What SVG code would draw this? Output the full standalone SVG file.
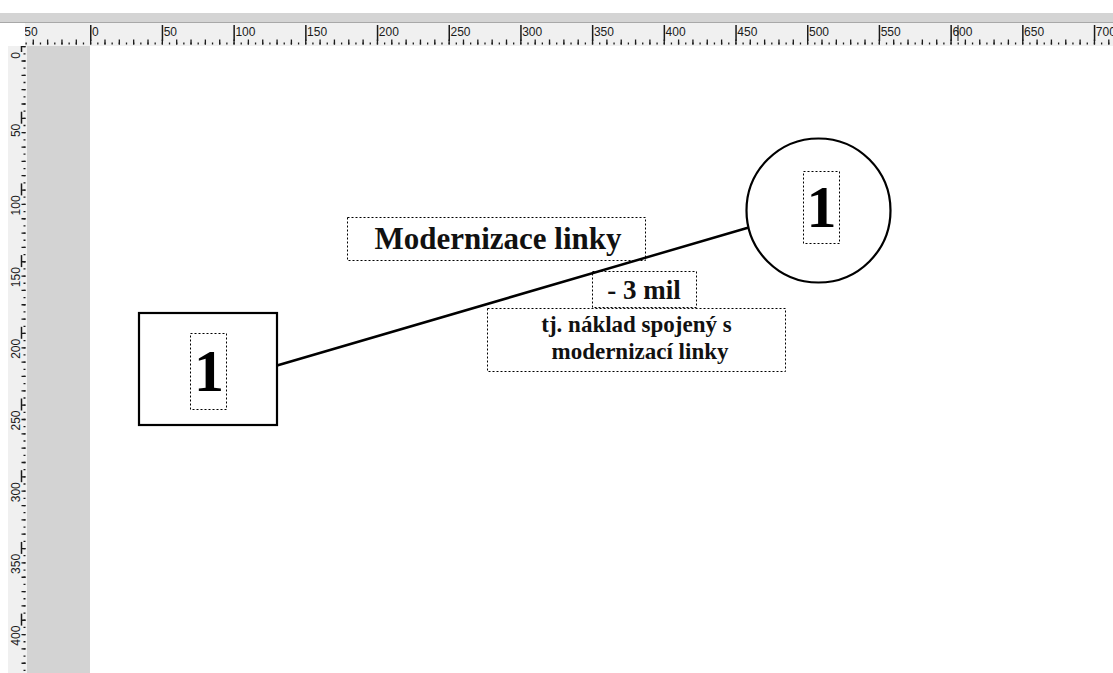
<svg xmlns="http://www.w3.org/2000/svg" width="1113" height="673" viewBox="0 0 1113 673">
  <defs>
    <style>
      .rulerbg { fill: #f0f0f0; }
      .rlabel { font-family: "Liberation Sans", Arial, sans-serif; font-size: 12px; fill: #1a1a1a; }
      .tick { stroke: #1a1a1a; fill: none; }
      .shape { fill: #ffffff; stroke: #000000; stroke-width: 2.2; }
      .frame { fill: none; stroke: #000000; stroke-width: 1; stroke-dasharray: 2 2; }
      .num { font-family: "Liberation Serif", "Times New Roman", serif; font-weight: bold; font-size: 60px; fill: #000; text-anchor: middle; }
      .lbl { font-family: "Liberation Serif", "Times New Roman", serif; font-weight: bold; fill: #111; text-anchor: middle; }
      .conn { stroke: #000000; stroke-width: 2.5; fill: none; stroke-linecap: round; }
    </style>
    <clipPath id="hclip"><rect x="25" y="23" width="1088" height="23"/></clipPath>
    <clipPath id="vclip"><rect x="0" y="46" width="27" height="627"/></clipPath>
  </defs>

  <!-- window background -->
  <rect x="0" y="0" width="1113" height="673" fill="#ffffff"/>
  <rect x="0" y="13" width="1113" height="9" fill="#d4d4d4"/>
  <rect x="0" y="22" width="1113" height="1" fill="#a8a8a8"/>

  <!-- horizontal ruler -->
  <g id="ruler-top">
    <rect class="rulerbg" x="25" y="23" width="1088" height="23"/>
    <g clip-path="url(#hclip)">
      <line class="tick" x1="18.3" y1="43.5" x2="1113" y2="43.5" stroke-width="2" stroke-dasharray="1.3 5.87"/>
      <line class="tick" x1="18.3" y1="42" x2="1113" y2="42" stroke-width="5" stroke-dasharray="1.3 13.04"/>
      <line class="tick" x1="18.3" y1="33" x2="1113" y2="33" stroke-width="16" stroke-dasharray="1.5 70.2"/>
      <text class="rlabel" x="20.3" y="36">-50</text>
      <text class="rlabel" x="92" y="36">0</text>
      <text class="rlabel" x="163.7" y="36">50</text>
      <text class="rlabel" x="235.4" y="36">100</text>
      <text class="rlabel" x="307.1" y="36">150</text>
      <text class="rlabel" x="378.8" y="36">200</text>
      <text class="rlabel" x="450.5" y="36">250</text>
      <text class="rlabel" x="522.2" y="36">300</text>
      <text class="rlabel" x="593.9" y="36">350</text>
      <text class="rlabel" x="665.6" y="36">400</text>
      <text class="rlabel" x="737.3" y="36">450</text>
      <text class="rlabel" x="809" y="36">500</text>
      <text class="rlabel" x="880.7" y="36">550</text>
      <text class="rlabel" x="952.4" y="36">600</text>
      <text class="rlabel" x="1024.1" y="36">650</text>
      <text class="rlabel" x="1095.8" y="36">700</text>
      <!-- pointer position marker -->
      <line x1="958" y1="25" x2="958" y2="41" stroke="#1a1a1a" stroke-width="1"/>
    </g>
  </g>

  <!-- vertical ruler -->
  <g id="ruler-left">
    <rect class="rulerbg" x="8" y="46" width="19" height="627"/>
    <g clip-path="url(#vclip)">
      <line class="tick" x1="24.5" y1="46" x2="24.5" y2="673" stroke-width="2" stroke-dasharray="1.3 5.87"/>
      <line class="tick" x1="23.5" y1="46" x2="23.5" y2="673" stroke-width="4" stroke-dasharray="1.3 13.04"/>
      <g class="tick" stroke-width="1.5">
        <line x1="21.5" y1="40" x2="21.5" y2="52"/>
        <line x1="21.5" y1="111.7" x2="21.5" y2="123.7"/>
        <line x1="21.5" y1="183.4" x2="21.5" y2="195.4"/>
        <line x1="21.5" y1="255.1" x2="21.5" y2="267.1"/>
        <line x1="21.5" y1="326.8" x2="21.5" y2="338.8"/>
        <line x1="21.5" y1="398.5" x2="21.5" y2="410.5"/>
        <line x1="21.5" y1="470.2" x2="21.5" y2="482.2"/>
        <line x1="21.5" y1="541.9" x2="21.5" y2="553.9"/>
        <line x1="21.5" y1="613.6" x2="21.5" y2="625.6"/>
      </g>
      <text class="rlabel" text-anchor="end" transform="translate(19.5,52) rotate(-90)">0</text>
      <text class="rlabel" text-anchor="end" transform="translate(19.5,123.7) rotate(-90)">50</text>
      <text class="rlabel" text-anchor="end" transform="translate(19.5,195.4) rotate(-90)">100</text>
      <text class="rlabel" text-anchor="end" transform="translate(19.5,267.1) rotate(-90)">150</text>
      <text class="rlabel" text-anchor="end" transform="translate(19.5,338.8) rotate(-90)">200</text>
      <text class="rlabel" text-anchor="end" transform="translate(19.5,410.5) rotate(-90)">250</text>
      <text class="rlabel" text-anchor="end" transform="translate(19.5,482.2) rotate(-90)">300</text>
      <text class="rlabel" text-anchor="end" transform="translate(19.5,553.9) rotate(-90)">350</text>
      <text class="rlabel" text-anchor="end" transform="translate(19.5,625.6) rotate(-90)">400</text>
    </g>
  </g>

  <!-- off-page margin -->
  <rect x="27" y="46" width="63" height="627" fill="#d3d3d3"/>

  <!-- connectors -->
  <g id="connectors">
    <line class="conn" x1="277" y1="365.5" x2="747" y2="228"/>
  </g>

  <!-- start node -->
  <g id="node-start">
    <rect class="shape" x="139" y="313" width="138" height="112"/>
    <rect class="frame" x="190.5" y="333.5" width="36" height="76"/>
    <text class="num" x="209" y="391">1</text>
  </g>

  <!-- end node -->
  <g id="node-end">
    <circle class="shape" cx="818.5" cy="210.5" r="72"/>
    <rect class="frame" x="803.5" y="171.5" width="36" height="72"/>
    <text class="num" x="821.5" y="227">1</text>
  </g>

  <!-- connector labels -->
  <g id="label-name">
    <rect class="frame" x="347.5" y="217.5" width="298" height="43"/>
    <text class="lbl" x="498" y="249" font-size="31">Modernizace linky</text>
  </g>
  <g id="label-cost">
    <rect class="frame" x="592.5" y="271.5" width="104" height="36" fill="#ffffff"/>
    <text class="lbl" x="644" y="299" font-size="27">- 3 mil</text>
  </g>
  <g id="label-note">
    <rect class="frame" x="487.5" y="308.5" width="298" height="63" fill="#ffffff"/>
    <text class="lbl" x="636.5" y="332" font-size="23">tj. náklad spojený s</text>
    <text class="lbl" x="640" y="359" font-size="23">modernizací linky</text>
  </g>
</svg>
